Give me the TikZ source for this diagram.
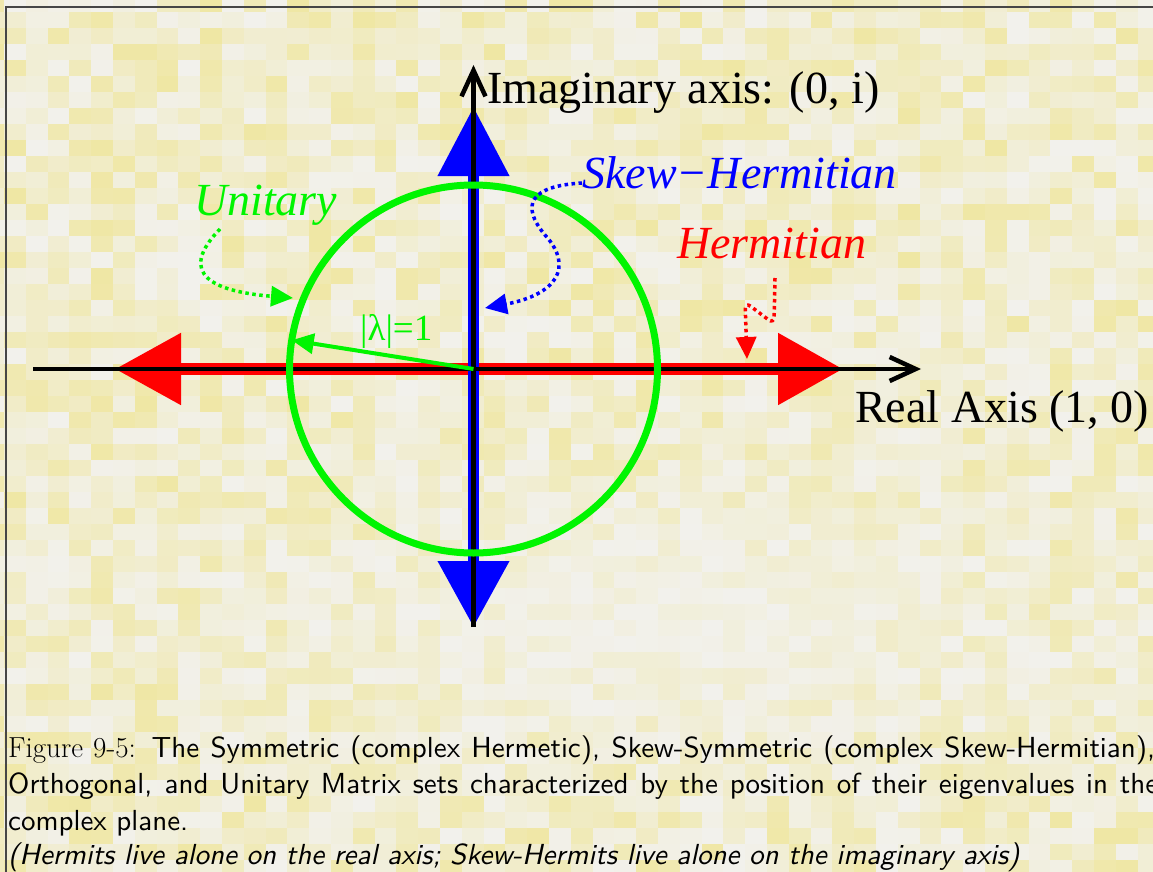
\documentclass[tikz,border=0pt]{standalone}
\usepackage{fontspec}
\newfontfamily\tnr{Liberation Serif}
\newfontfamily\capsans{lmsans10-regular}[Extension=.otf, ItalicFont=lmsans10-oblique]
\usetikzlibrary{arrows.meta,calc}
\definecolor{tileW}{RGB}{242,241,236}
\definecolor{tileY}{RGB}{239,229,150}
\definecolor{gr}{RGB}{0,245,0}
\definecolor{bl}{RGB}{0,0,255}
\definecolor{rd}{RGB}{255,0,0}
\definecolor{frm}{RGB}{70,70,70}
\tikzset{
  lbl/.style={font=\tnr\fontsize{46}{54}\selectfont, inner sep=0pt, anchor=base west},
  captext/.style={font=\capsans\fontsize{29}{34}\selectfont, inner sep=0pt, anchor=base west},
  bigred/.style={rd, line width=12pt, {Triangle[length=66pt,width=69pt]}-{Triangle[length=65pt,width=69pt]}},
  bigblue/.style={bl, line width=11pt, {Triangle[length=66pt,width=69pt]}-{Triangle[length=69pt,width=69pt]}},
  axisline/.style={black, line width=4.5pt},
  pointer/.style={line width=3.5pt, dash pattern=on 3.5pt off 3.5pt, -{Triangle[length=22pt,width=20pt]}},
}
\begin{document}
\begin{tikzpicture}[x=1pt,y=-1pt]
\useasboundingbox (0,0) rectangle (1153,872);
\clip (0,0) rectangle (1153,872);
% background mosaic
\pgfmathsetseed{4217}
\foreach \i in {0,...,53}{
  \foreach \j in {0,...,55}{
    \pgfmathsetmacro\cx{4+21.8*(\i-1)+10.9}
    \pgfmathsetmacro\cy{-4+16*\j+8}
    \pgfmathsetmacro\dx{(\cx-680)/330}
    \pgfmathsetmacro\dy{(\cy-620)/130}
    \pgfmathsetmacro\f{1-0.75*exp(-(\dx*\dx)-(\dy*\dy))}
    \pgfmathsetmacro\r{rnd}
    \pgfmathtruncatemacro\p{min(100,85*\r^1.4*\f)}
    \fill[tileY!\p!tileW] (4+21.8*\i-21.8, -4+16*\j) rectangle ++(21.9,16.1);
  }
}
% frame
\draw[frm, line width=1.5pt] (6,900) -- (6,7) -- (1200,7);
% coordinates
\coordinate (O) at (473.5,369);
\coordinate (Rl) at (115,369);
\coordinate (Rr) at (843,369);
\coordinate (Bt) at (473.5,107);
\coordinate (Bb) at (473.5,627);
\coordinate (Xl) at (33,369);
\coordinate (Xr) at (921,369);
\coordinate (Yt) at (473.5,65);
\coordinate (Yb) at (473.5,627);
% red and blue double arrows
\draw[bigred] (Rl) -- (Rr);
\draw[bigblue] (Bb) -- (Bt);
% black axes
\draw[axisline, -{Straight Barb[length=26pt,width=24pt]}] (Xl) -- (Xr);
\draw[axisline, -{Straight Barb[length=26pt,width=24pt]}] (Yb) -- (Yt);
% unit circle
\draw[gr, line width=7pt] (O) circle (184pt);
\coordinate (Rt) at ($(O)+(171:184pt)$);
\draw[gr, line width=4pt, -{Triangle[length=22pt,width=20pt]}] (O) -- (Rt);
% labels
\node[lbl] (imag) at (487,103) {Imaginary axis: (0, i)};
\node[lbl] (real) at (855,422) {Real Axis (1, 0)};
\node[lbl, bl] (skew) at (582,188) {\itshape Skew−Hermitian};
\node[lbl, rd] (herm) at (677,258) {\itshape Hermitian};
\node[lbl, gr] (unit) at (194,215) {\itshape Unitary};
\node[font=\tnr\fontsize{37}{42}\selectfont, gr, inner sep=0pt, anchor=base west] (lam) at (360,340) {|λ|=1};
% pointers
\coordinate (u0) at (220,229);
\coordinate (u1) at (293,298);
\draw[pointer, gr] (u0) .. controls (185,265) and (195,290) .. (u1);
\coordinate (s0) at (582,183);
\coordinate (s1) at (545,235);
\coordinate (s2) at (485,308);
\draw[pointer, bl] (s0) .. controls (530,186) and (520,205) .. (s1) .. controls (575,268) and (555,295) .. (s2);
\coordinate (h0) at (775,278);
\coordinate (h1) at (747,359);
\draw[pointer, rd, rounded corners=7pt] (h0) -- (774,324) -- (745,302) -- (h1);
% caption
\node[captext] (c1) at (8,757) {\hbox to 1147pt{{\rmfamily Figure 9-5:} The Symmetric (complex Hermetic), Skew-Symmetric (complex Skew-Hermitian),}};
\node[captext] (c2) at (8,793.5) {\hbox to 1150pt{Orthogonal, and Unitary Matrix sets characterized by the position of their eigenvalues in the}};
\node[captext] (c3) at (8,830) {complex plane.};
\node[captext] (c4) at (8,864) {\itshape (Hermits live alone on the real axis; Skew-Hermits live alone on the imaginary axis)};
\end{tikzpicture}
\end{document}
